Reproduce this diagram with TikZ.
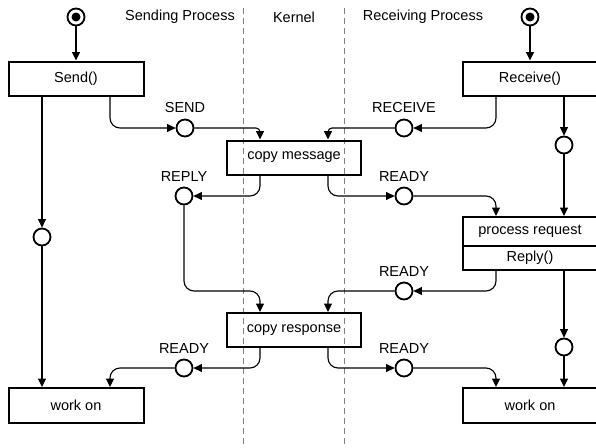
\documentclass[tikz,border=0pt]{standalone}
\usepackage{fontspec}
\setmainfont{Liberation Sans}
\usetikzlibrary{positioning, arrows.meta}

\tikzset{
    box/.style={draw, line width=2pt, minimum width=135pt, minimum height=34pt, inner sep=0pt},
    state/.style={circle, draw, line width=1.8pt, minimum size=17pt, inner sep=0pt},
    flow/.style={line width=1.1pt, -{Triangle[length=8.5pt,width=8pt]}},
    lane/.style={gray, dashed, line width=0.7pt, dash pattern=on 6pt off 4pt},
}

\begin{document}
\begin{tikzpicture}[x=1pt, y=-1pt, font=\fontsize{14.5}{16}\selectfont,
    every label/.style={label distance=2pt}]

    \useasboundingbox (0,0) rectangle (596,447);

    % --- Lanes and headers ---
    \draw[lane] (243,8) -- (243,447);
    \draw[lane] (344,8) -- (344,447);
    \node (hsend) at (180,17) {Sending Process};
    \node (hkern) at (294,17) {Kernel};
    \node (hrecv) at (423,17) {Receiving Process};

    % --- Start points ---
    \node[state, minimum size=17pt] (start1) at (76,17) {};
    \fill (start1) circle (4.5pt);
    \node[state, minimum size=17pt] (start2) at (530,17) {};
    \fill (start2) circle (4.5pt);

    % --- Boxes ---
    \node[box] (send) at (76,78.5) {Send()};
    \node[box] (recv) at (530,78.5) {Receive()};
    \node[box, minimum width=134pt] (cmsg) at (294,157.5) {copy message};
    \node[box, minimum height=29pt] (preq) at (530,231.5) {process request};
    \node[box, minimum height=24pt] (reply) at (530,258) {Reply()};
    \node[box, minimum width=134pt] (cresp) at (294,330) {copy response};
    \node[box, minimum height=35pt] (work1) at (76,405.5) {work on};
    \node[box, minimum height=35pt] (work2) at (530,405.5) {work on};

    % --- Message states ---
    \node[state, label=above:SEND] (csend) at (185,128) {};
    \node[state, label=above:RECEIVE] (crecv) at (404,128) {};
    \node[state, label=above:REPLY] (creply) at (184,196) {};
    \node[state, label=above:READY] (cready1) at (404,196) {};
    \node[state, label=above:READY] (cready2) at (404,291) {};
    \node[state, label=above:READY] (cready3) at (184,368) {};
    \node[state, label=above:READY] (cready4) at (404,368) {};
    \node[state] (cl) at (42,237) {};
    \node[state] (cr1) at (564,145) {};
    \node[state] (cr2) at (564,347) {};

    % --- Start arrows ---
    \draw[flow] (start1) -- (send);
    \draw[flow] (start2) -- (recv);

    % --- Send / receive into kernel ---
    % short drop into the box: small radius keeps the tip pointing down
    \draw[flow, rounded corners=10pt] ([xshift=34pt]send.south) |- (csend);
    \draw[flow, rounded corners=4pt] (csend) -| ([xshift=-34pt]cmsg.north);
    \draw[flow, rounded corners=10pt] ([xshift=-34pt]recv.south) |- (crecv);
    \draw[flow, rounded corners=4pt] (crecv) -| ([xshift=34pt]cmsg.north);

    % --- Copy message out ---
    \draw[flow, rounded corners=10pt] ([xshift=-34pt]cmsg.south) |- (creply);
    \draw[flow, rounded corners=10pt] ([xshift=34pt]cmsg.south) |- (cready1);
    \draw[flow, rounded corners=10pt] (cready1) -| ([xshift=-34pt]preq.north);

    % --- Receiver waits ---
    \draw[flow] ([xshift=34pt]recv.south) -- (cr1);
    \draw[flow] (cr1) -- ([xshift=34pt]preq.north);

    % --- Reply into kernel ---
    \draw[flow, rounded corners=10pt] ([xshift=-34pt]reply.south) |- (cready2);
    \draw[flow, rounded corners=10pt] (cready2) -| ([xshift=34pt]cresp.north);
    \draw[flow, rounded corners=10pt] (creply) -- (creply |- cready2) -| ([xshift=-34pt]cresp.north);

    % --- Copy response out ---
    \draw[flow, rounded corners=10pt] ([xshift=-34pt]cresp.south) |- (cready3);
    \draw[flow, rounded corners=10pt] (cready3) -| ([xshift=34pt]work1.north);
    \draw[flow, rounded corners=10pt] ([xshift=34pt]cresp.south) |- (cready4);
    \draw[flow, rounded corners=10pt] (cready4) -| ([xshift=-34pt]work2.north);

    % --- Blocked sender / receiver ---
    \draw[flow] ([xshift=-34pt]send.south) -- (cl);
    \draw[flow] (cl) -- ([xshift=-34pt]work1.north);
    \draw[flow] ([xshift=34pt]reply.south) -- (cr2);
    \draw[flow] (cr2) -- ([xshift=34pt]work2.north);

\end{tikzpicture}
\end{document}
